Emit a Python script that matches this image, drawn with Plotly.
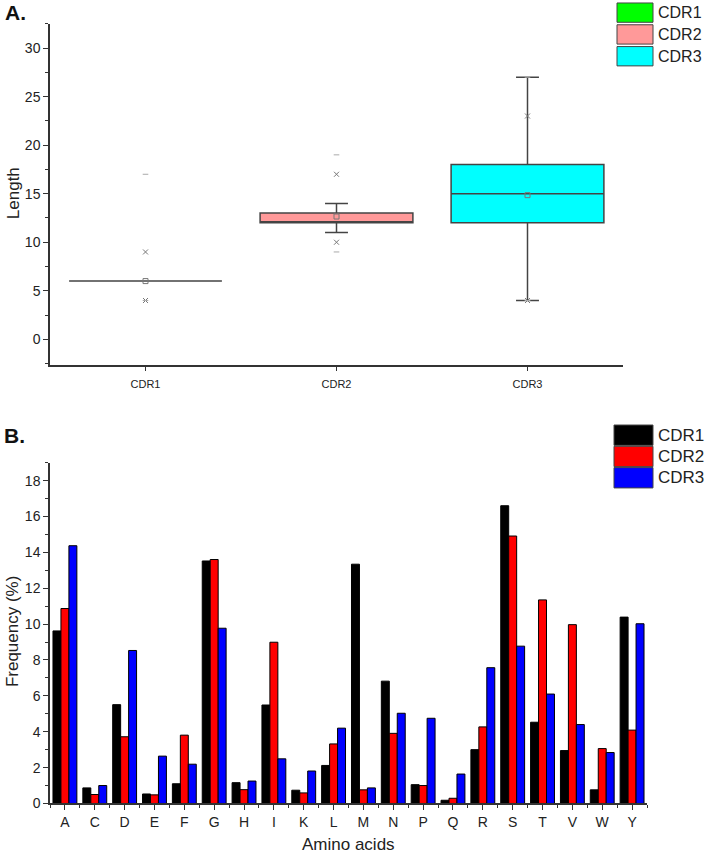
import plotly.graph_objects as go

W, H = 708, 863

# ---------------- Panel A data (box statistics) ----------------
cdr_names = ["CDR1", "CDR2", "CDR3"]
box_colors = ["#00ff00", "#ff9999", "#00ffff"]
box_q1 = [6, 12, 12]
box_median = [6, 12, 15]
box_q3 = [6, 13, 18]
whisker_low = [6, 11, 4]
whisker_high = [6, 14, 27]
box_mean = [6, 12.65, 14.85]
pct_low = [4, 10, 4]
pct_high = [9, 17, 23]
val_min = [4, 9, 4]
val_max = [17, 19, 27]

# ---------------- Panel B data (frequencies) ----------------
amino_acids = ["A", "C", "D", "E", "F", "G", "H", "I", "K", "L",
               "M", "N", "P", "Q", "R", "S", "T", "V", "W", "Y"]
cdr1_freq = [9.62, 0.87, 5.51, 0.53, 1.10, 13.52, 1.16, 5.49, 0.74, 2.12,
             13.34, 6.82, 1.05, 0.18, 3.00, 16.60, 4.53, 2.95, 0.76, 10.39]
cdr2_freq = [10.87, 0.50, 3.72, 0.48, 3.81, 13.60, 0.77, 8.99, 0.59, 3.32,
             0.76, 3.91, 1.00, 0.29, 4.27, 14.91, 11.35, 9.97, 3.06, 4.09]
cdr3_freq = [14.37, 1.00, 8.53, 2.64, 2.19, 9.77, 1.25, 2.49, 1.81, 4.20,
             0.87, 5.03, 4.75, 1.64, 7.57, 8.77, 6.10, 4.40, 2.84, 10.02]
bar_series = ["CDR1", "CDR2", "CDR3"]
bar_colors = ["#000000", "#ff0000", "#0000ff"]

FONT = "Liberation Sans, Arial, sans-serif"
AX = "#333333"
MK = "#777777"


def px_x(p):
    return p / W


def px_y(p):
    return 1 - p / H


fig = go.Figure()

# Panel A boxes
for i, name in enumerate(cdr_names):
    fig.add_trace(go.Box(
        x=[name], q1=[box_q1[i]], median=[box_median[i]], q3=[box_q3[i]],
        lowerfence=[whisker_low[i]], upperfence=[whisker_high[i]],
        fillcolor=box_colors[i], line=dict(color="#444444", width=1.5),
        width=0.8, whiskerwidth=0.15, boxpoints=False, showlegend=False,
        xaxis="x", yaxis="y", hoverinfo="skip"))

fig.add_trace(go.Scatter(x=cdr_names, y=box_mean, mode="markers", xaxis="x", yaxis="y",
                         marker=dict(symbol="square-open", size=5, color=MK, line=dict(width=1, color=MK)),
                         showlegend=False))
fig.add_trace(go.Scatter(x=cdr_names + cdr_names, y=pct_low + pct_high, mode="markers",
                         xaxis="x", yaxis="y",
                         marker=dict(symbol="x-thin-open", size=5, color=MK, line=dict(width=1, color=MK)),
                         showlegend=False))
fig.add_trace(go.Scatter(x=cdr_names + cdr_names, y=val_min + val_max, mode="markers",
                         xaxis="x", yaxis="y",
                         marker=dict(symbol="line-ew-open", size=4, color="#aaaaaa", line=dict(width=1, color="#aaaaaa")),
                         showlegend=False))

# Panel B bars
aa_idx = list(range(len(amino_acids)))
for name, vals, col in zip(bar_series, [cdr1_freq, cdr2_freq, cdr3_freq], bar_colors):
    fig.add_trace(go.Bar(x=aa_idx, y=vals, name=name, marker=dict(color=col, line=dict(color="#000000", width=1)),
                         xaxis="x2", yaxis="y2", showlegend=False))

axis_common = dict(showline=True, linecolor=AX, linewidth=1.5, ticks="outside", tickcolor=AX,
                   tickwidth=1.2, ticklen=5, showgrid=False, zeroline=False,
                   tickfont=dict(family=FONT, color="#222222"))

fig.update_layout(
    width=W, height=H, margin=dict(l=0, r=0, t=0, b=0),
    paper_bgcolor="white", plot_bgcolor="white",
    barmode="group", bargap=0.2, bargroupgap=0, boxmode="overlay",
    xaxis=dict(**axis_common, domain=[px_x(50), px_x(623)], anchor="y", range=[-0.5, 2.5],
               type="category", ticklabelstandoff=3),
    yaxis=dict(**axis_common, domain=[px_y(368), px_y(24)], anchor="x", range=[-2.6, 32.5],
               tickmode="linear", tick0=0, dtick=5,
               minor=dict(ticks="outside", ticklen=3, tickcolor=AX, dtick=2.5, tick0=0)),
    xaxis2=dict(**axis_common, domain=[px_x(50), px_x(647)], anchor="y2", range=[-0.5, 19.5],
                tickmode="array", tickvals=aa_idx, ticktext=amino_acids,
                minor=dict(ticks="outside", ticklen=3, tickcolor=AX, dtick=1, tick0=0.5)),
    yaxis2=dict(**axis_common, domain=[px_y(811), px_y(467)], anchor="x2", range=[0, 19],
                tickmode="linear", tick0=0, dtick=2,
                minor=dict(ticks="outside", ticklen=3, tickcolor=AX, dtick=1, tick0=0)),
)
fig.layout.xaxis.tickfont.size = 11
fig.layout.yaxis.tickfont.size = 14
fig.layout.xaxis2.tickfont.size = 14
fig.layout.yaxis2.tickfont.size = 14

shapes = []
annotations = []


# Legends (drawn as swatches + text)
def legend(names, colors, x0, x1, y_tops, h, fsize):
    for n, c, yt in zip(names, colors, y_tops):
        shapes.append(dict(type="rect", xref="paper", yref="paper",
                           x0=px_x(x0), x1=px_x(x1), y0=px_y(yt + h), y1=px_y(yt),
                           fillcolor=c, line=dict(color="#444444", width=1)))
        annotations.append(dict(text=n, xref="paper", yref="paper", x=px_x(x1 + 3), y=px_y(yt + h / 2),
                                xanchor="left", yanchor="middle", showarrow=False,
                                font=dict(family=FONT, size=fsize, color="#222222")))


legend(cdr_names, box_colors, 617, 653, [3, 25, 47], 19.5, 16)
legend(bar_series, bar_colors, 614, 653, [429, 450.5, 472], 20.5, 17)

# Panel labels and axis titles
annotations += [
    dict(text="<b>A.</b>", xref="paper", yref="paper", x=px_x(3), y=px_y(13), xanchor="left",
         yanchor="middle", showarrow=False, font=dict(family=FONT, size=21, color="#111111")),
    dict(text="<b>B.</b>", xref="paper", yref="paper", x=px_x(2), y=px_y(440), xanchor="left",
         yanchor="middle", showarrow=False, font=dict(family=FONT, size=21, color="#111111")),
    dict(text="Length", xref="paper", yref="paper", x=px_x(13), y=px_y(195), textangle=-90,
         xanchor="center", yanchor="middle", showarrow=False,
         font=dict(family=FONT, size=17, color="#222222")),
    dict(text="Frequency (%)", xref="paper", yref="paper", x=px_x(12), y=px_y(638), textangle=-90,
         xanchor="center", yanchor="middle", showarrow=False,
         font=dict(family=FONT, size=17, color="#222222")),
    dict(text="Amino acids", xref="paper", yref="paper", x=px_x(348), y=px_y(852),
         xanchor="center", yanchor="middle", showarrow=False,
         font=dict(family=FONT, size=17, color="#222222")),
]

fig.update_layout(shapes=shapes, annotations=annotations)
fig.write_html("out.html", config={"displayModeBar": False},
               post_script="document.body.style.margin='0';document.body.style.overflow='hidden';")
